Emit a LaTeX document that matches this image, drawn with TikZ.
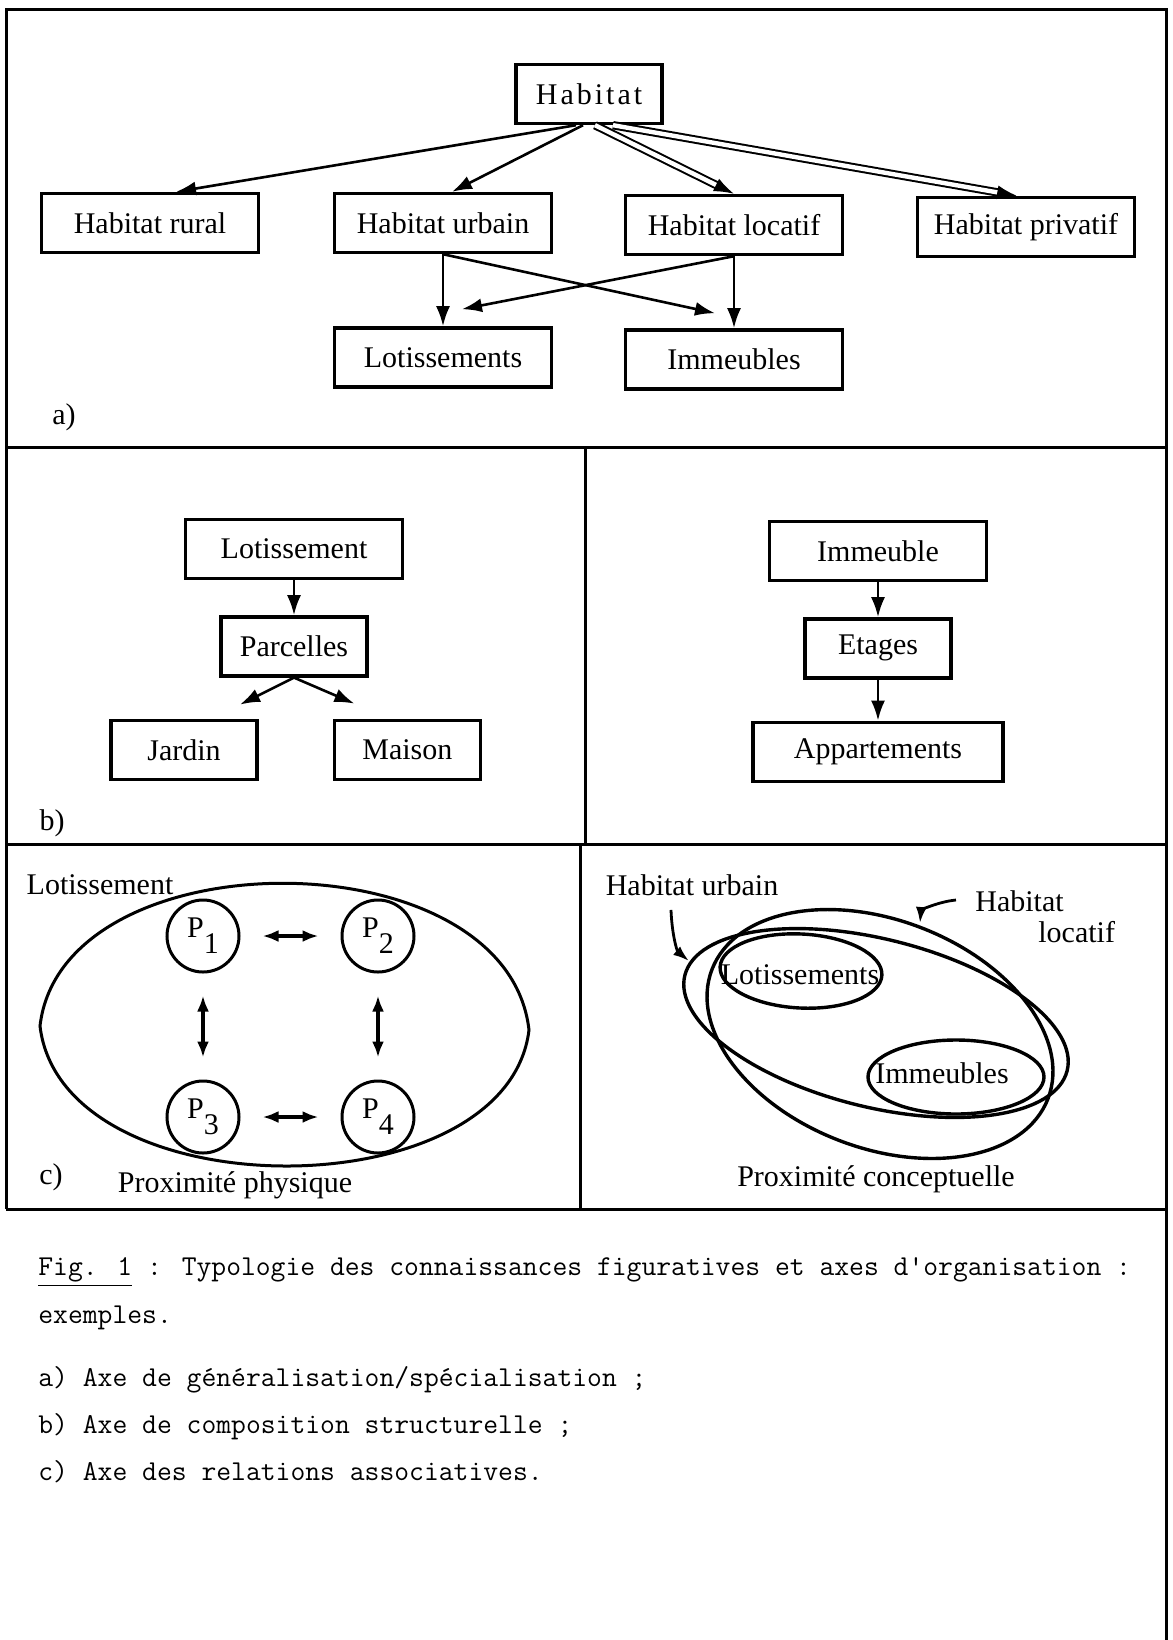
\documentclass[tikz,border=0pt]{standalone}
\usepackage{fontspec}
\setmainfont{Liberation Serif}
\usepackage{tikz}
\usetikzlibrary{arrows.meta, positioning, calc}

\newcommand{\lblfont}{\fontsize{15}{17}\selectfont}
\newcommand{\capfont}{\fontsize{14.4}{17}\ttfamily}
\newcommand{\pidx}[1]{P\raisebox{-8pt}{#1}}

\begin{document}
\begin{tikzpicture}[
    x=0.5pt, y=-0.5pt,
    entity/.style={rectangle, draw, line width=1.7pt, minimum width=108.5pt, minimum height=29.5pt, inner sep=2pt, font=\lblfont},
    short/.style={entity, minimum width=73pt},
    arrow/.style={line width=1.3pt, -{Latex[length=10pt, width=7pt]}},
    twin/.style={arrow, double, double distance=2.2pt, line width=1pt},
    both/.style={line width=1.6pt, {Latex[length=8pt, width=6pt]}-{Latex[length=8pt, width=6pt]}, shorten >=11pt, shorten <=11pt},
    parcel/.style={circle, draw, line width=1.5pt, minimum size=36pt, inner sep=0pt, font=\lblfont},
    tag/.style={font=\lblfont, inner sep=0pt},
    pointer/.style={line width=1.4pt, -{Latex[length=8pt, width=5.5pt]}},
    frame/.style={line width=1.5pt},
    set/.style={line width=1.7pt}
]
    \useasboundingbox (0,0) rectangle (1173,1640);

    % cadre et separations
    \draw[frame] (1166,1640) -- (1166,9) -- (6,9) -- (6,1209);
    \foreach \y in {447,844,1209}
        \draw[frame] (6,\y) -- (1166,\y);
    \draw[frame] (585,447) -- (585,844);
    \draw[frame] (580,844) -- (580,1209);

    % a) generalisation / specialisation
    \node[short] (habitat) at (589,94) {\addfontfeatures{LetterSpace=10}Habitat};
    \node[entity] (rural) at (150,223) {Habitat rural};
    \node[entity] (urbain) at (443,223) {Habitat urbain};
    \node[entity] (locatif) at (734,225) {Habitat locatif};
    \node[entity] (privatif) at (1026,227) {Habitat privatif};
    \node[entity, below=36pt of urbain] (lots) {Lotissements};
    \node[entity, below=36pt of locatif] (imms) {Immeubles};
    \node[tag] (la) at (64,417) {a)};

    \draw[arrow] ([xshift=-6.5pt]habitat.south) -- ([xshift=13pt]rural.north);
    \draw[arrow] ([xshift=-3pt]habitat.south) -- ([xshift=4.5pt]urbain.north);
    \draw[twin] ([xshift=3pt]habitat.south) -- (locatif.north);
    \draw[twin] ([xshift=12pt]habitat.south) -- ([xshift=-4.5pt]privatif.north);
    \draw[arrow] (urbain.south) -- (lots.north);
    \draw[arrow] (urbain.south) -- ([xshift=-9.5pt, yshift=7.5pt]imms.north);
    \draw[arrow] (locatif.south) -- ([xshift=9.5pt, yshift=8.5pt]lots.north);
    \draw[arrow] (locatif.south) -- (imms.north);

    % b) composition structurelle
    \node[entity] (lotb) at (294,549) {Lotissement};
    \node[short, below=17.5pt of lotb] (parcelles) {Parcelles};
    \node[short, below=20.5pt of parcelles, xshift=-55pt] (jardin) {Jardin};
    \node[short, right=37pt of jardin] (maison) {Maison};
    \node[tag] (lb) at (52,823) {b)};

    \draw[arrow] (lotb) -- (parcelles);
    \draw[arrow] (parcelles.south) -- ([xshift=28pt, yshift=7pt]jardin.north);
    \draw[arrow] (parcelles.south) -- ([xshift=-26.5pt, yshift=7.5pt]maison.north);

    \node[entity] (immb) at (878,551) {Immeuble};
    \node[short, below=17.5pt of immb] (etages) {Etages};
    \node[entity, minimum width=125pt, below=20.5pt of etages] (appart) {Appartements};

    \draw[arrow] (immb) -- (etages);
    \draw[arrow] (etages) -- (appart);

    % c) relations associatives
    \draw[set, line width=1.5pt] (40,1026) .. controls (62,835) and (507,835) .. (529,1030)
        .. controls (507,1212) and (62,1212) .. cycle;
    \node[tag] (lotc) at (100,885) {Lotissement};
    \node[parcel] (p1) at (203,936) {\pidx{1}};
    \node[parcel, right=50pt of p1] (p2) {\pidx{2}};
    \node[parcel, below=53pt of p1] (p3) {\pidx{3}};
    \node[parcel, right=50pt of p3] (p4) {\pidx{4}};
    \draw[both] (p1) -- (p2);
    \draw[both] (p3) -- (p4);
    \draw[both] (p1) -- (p3);
    \draw[both] (p2) -- (p4);
    \node[tag] (lc) at (51,1177) {c)};
    \node[tag] (physique) at (235,1185) {Proximité physique};

    \node[tag] (hurb) at (692,885) {Habitat urbain};
    \node[tag, anchor=west, align=left] (hloc) at (975,917) {Habitat\\[-1.5pt]\hspace{31.5pt}locatif};
    \draw[set, rotate around={-14:(876,1023)}] (876,1023) ellipse [x radius=197, y radius=84];
    \draw[set, rotate around={-21:(880,1034)}] (880,1034) ellipse [x radius=180, y radius=114];
    \node[tag] (lotsc) at (800,975) {Lotissements};
    \draw[set, rotate around={-3:(801,971)}] (801,971) ellipse [x radius=81, y radius=37];
    \node[tag] (immsc) at (942,1073) {Immeubles};
    \draw[set] (956,1077) ellipse [x radius=88, y radius=37];
    \coordinate (urbtip) at (689,961);
    \coordinate (loctip) at (920,923);
    \draw[pointer] ([xshift=-10.5pt, yshift=-7pt]hurb.south) .. controls +(1,25) and +(-12,-10) .. (urbtip);
    \draw[pointer] ([xshift=-9.5pt, yshift=8.5pt]hloc.west) .. controls +(-20,2) and +(1,-12) .. (loctip);
    \node[tag] (concept) at (876,1179) {Proximité conceptuelle};

    % legende
    \node[anchor=west, font=\capfont, inner sep=0pt] (cap1) at (38,1272) {\underline{Fig. 1} : Typologie des connaissances figuratives et axes d'organisation :};
    \node[anchor=west, font=\capfont, inner sep=0pt] (cap2) at (38,1318) {exemples.};
    \node[anchor=west, font=\capfont, inner sep=0pt] (cap3) at (38,1380) {a) Axe de généralisation/spécialisation ;};
    \node[anchor=west, font=\capfont, inner sep=0pt] (cap4) at (38,1427) {b) Axe de composition structurelle ;};
    \node[anchor=west, font=\capfont, inner sep=0pt] (cap5) at (38,1472) {c) Axe des relations associatives.};
\end{tikzpicture}
\end{document}
